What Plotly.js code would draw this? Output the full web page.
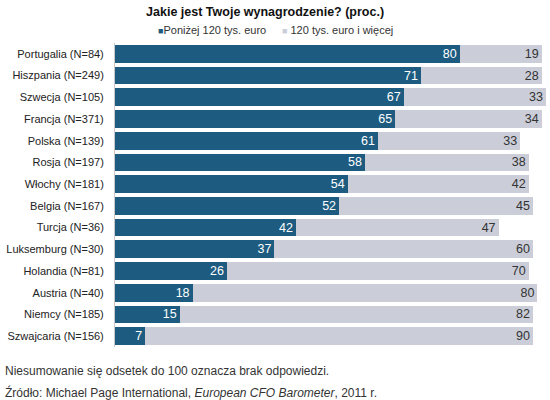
<!DOCTYPE html>
<html>
<head>
<meta charset="utf-8">
<script src="https://cdn.plot.ly/plotly-3.0.1.min.js"></script>
<style>
  html, body { margin: 0; padding: 0; background: #fff; }
  #chart { width: 550px; height: 400px; }
</style>
</head>
<body>
<div id="chart"></div>
<script>
// kraje od góry do dołu
const countries = [
  'Portugalia (N=84)', 'Hiszpania (N=249)', 'Szwecja (N=105)', 'Francja (N=371)',
  'Polska (N=139)', 'Rosja (N=197)', 'Włochy (N=181)', 'Belgia (N=167)',
  'Turcja (N=36)', 'Luksemburg (N=30)', 'Holandia (N=81)', 'Austria (N=40)',
  'Niemcy (N=185)', 'Szwajcaria (N=156)'
];
const below120 = [80, 71, 67, 65, 61, 58, 54, 52, 42, 37, 26, 18, 15, 7];
const above120 = [19, 28, 33, 34, 33, 38, 42, 45, 47, 60, 70, 80, 82, 90];
const seriesNames = ['Poniżej 120 tys. euro', '120 tys. euro i więcej'];

const darkBlue = '#1d5c80';
const lightGray = '#cbced9';
const fontFam = '"Liberation Sans", Arial, sans-serif';

var data = [
  {
    type: 'bar',
    orientation: 'h',
    name: seriesNames[0],
    y: countries,
    x: below120,
    text: below120.map(String),
    textposition: 'inside',
    insidetextanchor: 'end',
    textangle: 0,
    constraintext: 'none',
    textfont: { color: '#ffffff', size: 12.5, family: fontFam },
    marker: { color: darkBlue },
    hoverinfo: 'none'
  },
  {
    type: 'bar',
    orientation: 'h',
    name: seriesNames[1],
    y: countries,
    x: above120,
    text: above120.map(String),
    textposition: 'inside',
    insidetextanchor: 'end',
    textangle: 0,
    constraintext: 'none',
    textfont: { color: '#333333', size: 12.5, family: fontFam },
    marker: { color: lightGray },
    hoverinfo: 'none'
  }
];

// obszar wykresu: x 115..546, y 43..347
const plotW = 431, plotH = 304;
const px = v => (v - 115) / plotW;
const py = v => (347 - v) / plotH;

var layout = {
  width: 550,
  height: 400,
  barmode: 'stack',
  bargap: 0.18,
  paper_bgcolor: '#ffffff',
  plot_bgcolor: '#ffffff',
  font: { family: fontFam, size: 11, color: '#222222' },
  margin: { l: 115, r: 4, t: 43, b: 53, pad: 0 },
  title: {
    text: '<b>Jakie jest Twoje wynagrodzenie? (proc.)</b>',
    font: { size: 12.5, color: '#111111', family: fontFam },
    x: 0.482, xanchor: 'center',
    y: 0.97, yanchor: 'middle'
  },
  showlegend: false,
  xaxis: {
    range: [0, 100],
    showticklabels: false,
    showgrid: false,
    zeroline: false,
    fixedrange: true
  },
  yaxis: {
    autorange: 'reversed',
    showline: true,
    linecolor: '#c8c8c8',
    linewidth: 1,
    ticks: '',
    ticklabelstandoff: 8,
    tickfont: { size: 11, color: '#222222' },
    fixedrange: true
  },
  annotations: [
    {
      xref: 'paper', yref: 'paper', x: px(156), y: py(30),
      xanchor: 'left', yanchor: 'middle', showarrow: false,
      text: '<span style="color:' + darkBlue + ';font-size:9px">■</span>' + seriesNames[0],
      font: { size: 11, color: '#333333' }
    },
    {
      xref: 'paper', yref: 'paper', x: px(280), y: py(30),
      xanchor: 'left', yanchor: 'middle', showarrow: false,
      text: '<span style="color:' + lightGray + ';font-size:9px">■</span> ' + seriesNames[1],
      font: { size: 11, color: '#333333' }
    },
    {
      xref: 'paper', yref: 'paper', x: px(3), y: py(371),
      xanchor: 'left', yanchor: 'middle', showarrow: false,
      text: 'Niesumowanie się odsetek do 100 oznacza brak odpowiedzi.',
      font: { size: 12, color: '#333333' }
    },
    {
      xref: 'paper', yref: 'paper', x: px(3), y: py(392),
      xanchor: 'left', yanchor: 'middle', showarrow: false,
      text: 'Źródło: Michael Page International, <i>European CFO Barometer</i>, 2011 r.',
      font: { size: 12, color: '#333333' }
    }
  ]
};

Plotly.newPlot('chart', data, layout, { staticPlot: true, displayModeBar: false });
</script>
</body>
</html>
